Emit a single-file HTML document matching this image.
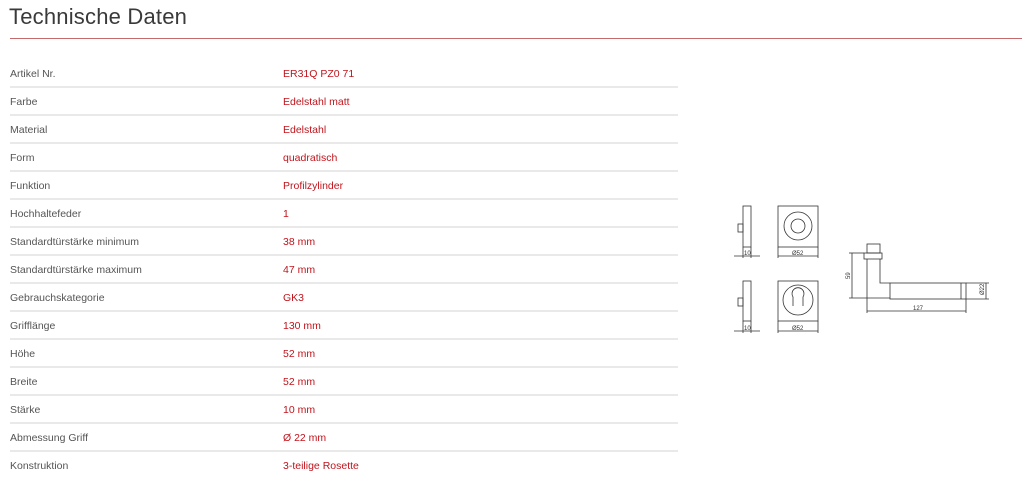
<!DOCTYPE html>
<html><head><meta charset="utf-8"><style>
body{margin:0;width:1024px;height:478px;background:#fff;font-family:"Liberation Sans",sans-serif;position:relative;overflow:hidden}
h1{position:absolute;left:9px;top:4px;margin:0;font-weight:normal;font-size:22px;color:#3a3a3a;letter-spacing:0.2px}
.hr{position:absolute;left:10px;top:38px;width:1012px;height:1px;background:#c46a6a}
.row{position:absolute;left:10px;width:668px;height:28px;border-bottom:2px solid #e9e9e9;box-sizing:border-box;font-size:10.5px;line-height:28px}
.k{position:absolute;left:0;color:#555}
.v{position:absolute;left:273px;color:#c0141c}
svg{position:absolute;left:0;top:0}
</style></head><body>
<h1>Technische Daten</h1><div class="hr"></div>
<div class="row" style="top:60px"><span class="k">Artikel Nr.</span><span class="v">ER31Q PZ0 71</span></div>
<div class="row" style="top:88px"><span class="k">Farbe</span><span class="v">Edelstahl matt</span></div>
<div class="row" style="top:116px"><span class="k">Material</span><span class="v">Edelstahl</span></div>
<div class="row" style="top:144px"><span class="k">Form</span><span class="v">quadratisch</span></div>
<div class="row" style="top:172px"><span class="k">Funktion</span><span class="v">Profilzylinder</span></div>
<div class="row" style="top:200px"><span class="k">Hochhaltefeder</span><span class="v">1</span></div>
<div class="row" style="top:228px"><span class="k">Standardtürstärke minimum</span><span class="v">38 mm</span></div>
<div class="row" style="top:256px"><span class="k">Standardtürstärke maximum</span><span class="v">47 mm</span></div>
<div class="row" style="top:284px"><span class="k">Gebrauchskategorie</span><span class="v">GK3</span></div>
<div class="row" style="top:312px"><span class="k">Grifflänge</span><span class="v">130 mm</span></div>
<div class="row" style="top:340px"><span class="k">Höhe</span><span class="v">52 mm</span></div>
<div class="row" style="top:368px"><span class="k">Breite</span><span class="v">52 mm</span></div>
<div class="row" style="top:396px"><span class="k">Stärke</span><span class="v">10 mm</span></div>
<div class="row" style="top:424px"><span class="k">Abmessung Griff</span><span class="v">Ø 22 mm</span></div>
<div class="row" style="top:452px;border-bottom:none"><span class="k">Konstruktion</span><span class="v">3-teilige Rosette</span></div>
<svg width="1024" height="478" fill="none" stroke="#333" stroke-width="0.8" font-family="Liberation Sans" font-size="6">
<rect x="743" y="206" width="8" height="41"/><rect x="738" y="224" width="5" height="8"/>
<rect x="778" y="206" width="40" height="41"/><circle cx="798" cy="226" r="14"/><circle cx="798" cy="226" r="7"/>
<line x1="734" y1="256" x2="760" y2="256"/><line x1="743" y1="247" x2="743" y2="258"/><line x1="751" y1="247" x2="751" y2="258"/>
<line x1="778" y1="256" x2="818" y2="256"/><line x1="778" y1="247" x2="778" y2="258"/><line x1="818" y1="247" x2="818" y2="258"/>
<rect x="743" y="281" width="8" height="40"/><rect x="738" y="298" width="5" height="8"/>
<rect x="778" y="281" width="40" height="40"/><path d="M793 306 L793 297 A6 6 0 1 1 803 297 L803 306"/><circle cx="798" cy="300" r="15"/>
<line x1="734" y1="331" x2="760" y2="331"/><line x1="743" y1="321" x2="743" y2="333"/><line x1="751" y1="321" x2="751" y2="333"/>
<line x1="778" y1="331" x2="818" y2="331"/><line x1="778" y1="321" x2="778" y2="333"/><line x1="818" y1="321" x2="818" y2="333"/>
<rect x="867" y="244" width="13" height="9"/><rect x="864" y="253" width="18" height="6"/>
<path d="M867 259 V298 H890 M880 259 V283 H890"/><rect x="890" y="283" width="76" height="16"/><line x1="961" y1="283" x2="961" y2="299"/>
<line x1="852" y1="253" x2="852" y2="298"/><line x1="849" y1="253" x2="864" y2="253"/><line x1="849" y1="298" x2="867" y2="298"/>
<line x1="867" y1="311" x2="966" y2="311"/><line x1="867" y1="298" x2="867" y2="313"/><line x1="966" y1="299" x2="966" y2="313"/>
<line x1="986" y1="283" x2="986" y2="299"/><line x1="966" y1="283" x2="989" y2="283"/><line x1="966" y1="299" x2="989" y2="299"/>
<g fill="#333" stroke="none"><text x="744" y="255">10</text><text x="792" y="255">Ø52</text><text x="744" y="330">10</text><text x="792" y="330">Ø52</text>
<text x="913" y="310">127</text><text transform="translate(850,279) rotate(-90)">59</text><text transform="translate(984,295) rotate(-90)">Ø22</text></g>
</svg>
</body></html>
